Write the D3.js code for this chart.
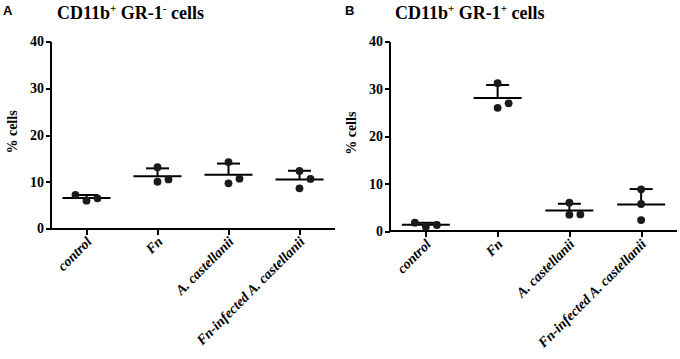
<!DOCTYPE html>
<html>
<head>
<meta charset="utf-8">
<script src="https://cdn.jsdelivr.net/npm/d3@7"></script>
<style>
  body { margin: 0; background: #fff; }
  svg { display: block; }
  text.tick-label { font-family: "Liberation Serif", "DejaVu Serif", serif; font-weight: bold; font-size: 14px; }
  text.cat-label { font-family: "Liberation Serif", "DejaVu Serif", serif; font-weight: bold; font-style: italic; font-size: 14px; }
  text.title { font-family: "Liberation Serif", "DejaVu Serif", serif; font-weight: bold; font-size: 18px; }
  text.panel-letter { font-family: "Liberation Sans", Arial, sans-serif; font-weight: bold; font-size: 13px; }
</style>
</head>
<body>
<svg id="chart" width="680" height="359"></svg>
<script>
// categories and measured values (% cells), three mice per group
const categories = ['control', 'Fn', 'A. castellanii', 'Fn-infected A. castellanii'];
const yTicks = [0, 10, 20, 30, 40];
const gr1NegValues = [[5.95, 6.45, 7.2], [13.1, 10.0, 10.5], [14.2, 9.67, 10.65], [12.3, 8.6, 10.6]];
const gr1PosValues = [[0.9, 1.27, 1.75], [31.2, 26.0, 26.95], [5.97, 3.45, 3.5], [8.8, 5.7, 2.3]];

const svg = d3.select('#chart');

function drawPanel(cfg, values) {
  const g = svg.append('g');

  const x = d3.scalePoint()
      .domain(categories)
      .range([cfg.left, cfg.right])
      .padding(0.5);
  const y = d3.scaleLinear()
      .domain([0, 40])
      .range([cfg.bottom, cfg.top]);

  // y axis
  const yAxis = d3.axisLeft(y).tickValues(yTicks).tickSize(5).tickPadding(2);
  const yG = g.append('g')
      .attr('transform', `translate(${cfg.left},0)`)
      .call(yAxis)
      .attr('font-family', null)
      .attr('font-size', null);
  yG.select('.domain').attr('d', `M0,${cfg.top}V${cfg.bottom}`);
  // x axis
  const xAxis = d3.axisBottom(x).tickSize(6).tickFormat('');
  const xG = g.append('g')
      .attr('transform', `translate(0,${cfg.bottom})`)
      .call(xAxis);
  xG.select('.domain').attr('d', `M${cfg.left},0H${cfg.right}`);

  g.selectAll('.domain, .tick line')
      .attr('stroke', '#000')
      .attr('stroke-width', 2)
      .attr('shape-rendering', 'crispEdges');
  yG.selectAll('.tick text')
      .attr('class', 'tick-label')
      .attr('fill', '#000');

  // rotated category labels
  g.selectAll('.cat-label')
      .data(categories)
      .join('text')
      .attr('class', 'cat-label')
      .attr('text-anchor', 'end')
      .attr('transform', d => `translate(${x(d) + 6},${cfg.bottom + 14}) rotate(-45)`)
      .text(d => d);

  // y axis title
  g.append('text')
      .attr('class', 'tick-label')
      .attr('text-anchor', 'middle')
      .attr('transform', `translate(${cfg.left - 34},${(cfg.top + cfg.bottom) / 2 - 3}) rotate(-90)`)
      .text('% cells');

  // panel title with superscripts
  const t = g.append('text')
      .attr('class', 'title')
      .attr('x', cfg.titleX)
      .attr('y', 19);
  t.append('tspan').text('CD11b');
  t.append('tspan').attr('font-size', 11).attr('dy', -7).text('+');
  t.append('tspan').attr('dy', 7).text(' GR-1');
  t.append('tspan').attr('font-size', 11).attr('dy', -7).text(cfg.sign);
  t.append('tspan').attr('dy', 7).text(' cells');

  g.append('text')
      .attr('class', 'panel-letter')
      .attr('x', cfg.letterX)
      .attr('y', 15)
      .text(cfg.letter);

  const r = 3.9, step = 11, minGap = 9;
  const groups = categories.map((c, i) => {
    const vals = values[i];
    const mean = d3.mean(vals);
    const sd = d3.deviation(vals);
    // simple swarm: shift a dot sideways when it would overlap a dot placed before
    const placed = [];
    vals.forEach(v => {
      const py = y(v);
      const tries = [0, 1, -1, 2, -2];
      const k = tries.find(o => !placed.some(p => p.o === o && Math.abs(p.py - py) < minGap));
      placed.push({o: k, py: py, v: v});
    });
    return {cat: c, mean: mean, sd: sd, dots: placed};
  });

  const grp = g.selectAll('.grp')
      .data(groups)
      .join('g')
      .attr('class', 'grp');

  grp.append('line')
      .attr('x1', d => x(d.cat))
      .attr('x2', d => x(d.cat))
      .attr('y1', d => y(d.mean))
      .attr('y2', d => y(d.mean + d.sd))
      .attr('stroke', '#000').attr('stroke-width', 2);
  grp.append('line')
      .attr('x1', d => x(d.cat) - 11.5)
      .attr('x2', d => x(d.cat) + 11.5)
      .attr('y1', d => y(d.mean + d.sd))
      .attr('y2', d => y(d.mean + d.sd))
      .attr('stroke', '#000').attr('stroke-width', 2);
  grp.append('line')
      .attr('x1', d => x(d.cat) - 24)
      .attr('x2', d => x(d.cat) + 24)
      .attr('y1', d => y(d.mean))
      .attr('y2', d => y(d.mean))
      .attr('stroke', '#000').attr('stroke-width', 2);

  grp.selectAll('circle')
      .data(d => d.dots.map(p => ({cat: d.cat, o: p.o, v: p.v})))
      .join('circle')
      .attr('cx', d => x(d.cat) + d.o * step)
      .attr('cy', d => y(d.v))
      .attr('r', r)
      .attr('fill', '#1a1a1a');
}

drawPanel({left: 51, right: 335, top: 41.5, bottom: 228.5, titleX: 57, letterX: 3, letter: 'A', sign: '-'}, gr1NegValues);
drawPanel({left: 390, right: 677, top: 41.5, bottom: 231, titleX: 395, letterX: 345, letter: 'B', sign: '+'}, gr1PosValues);
</script>
</body>
</html>
